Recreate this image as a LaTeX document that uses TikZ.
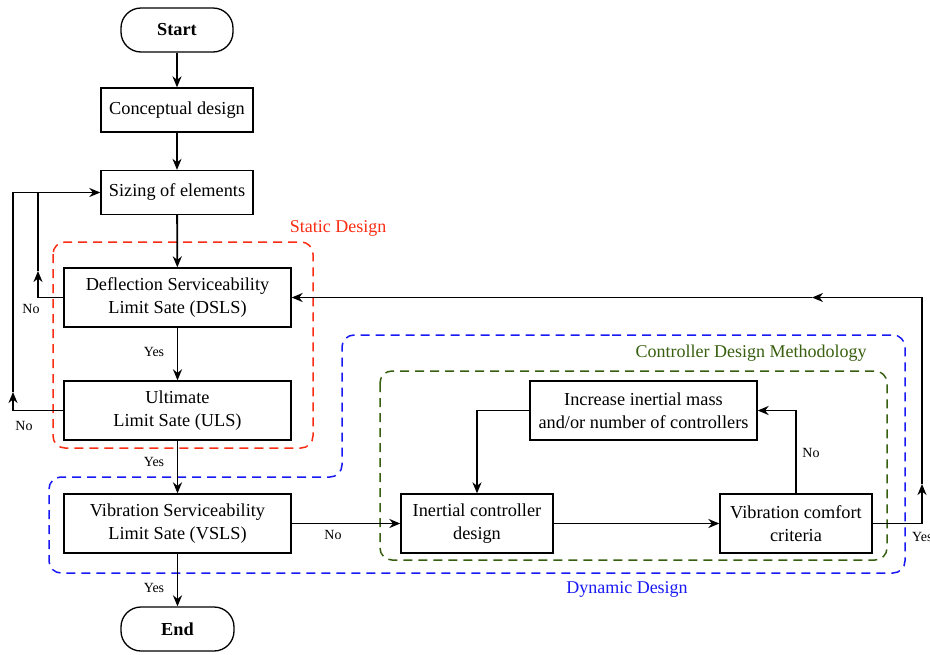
\documentclass[tikz,border=0pt]{standalone}
\usepackage{fontspec}
\setmainfont{Liberation Serif}
\usetikzlibrary{arrows.meta}
\definecolor{sred}{RGB}{250,45,20}
\definecolor{dblue}{RGB}{25,25,245}
\definecolor{dgreen}{RGB}{55,95,15}
\begin{document}
\begin{tikzpicture}[x=1pt,y=-1pt,
 box/.style={draw, line width=1.3pt, minimum width=152pt, minimum height=44pt, inner sep=0pt, align=center, font=\fontsize{18.3}{23}\selectfont},
 bigbox/.style={box, minimum width=227pt, minimum height=59pt},
 term/.style={box, minimum width=112pt, rounded corners=20pt, font=\fontsize{18.3}{23}\selectfont\bfseries},
 conn/.style={line width=1.8pt, -{Stealth[length=11pt,width=9pt,inset=3.5pt]}},
 plain/.style={line width=1.8pt},
 lbl/.style={font=\fontsize{14}{16}\selectfont, inner sep=0pt},
 title/.style={font=\fontsize{18}{22}\selectfont, inner sep=0pt},
 region/.style={line width=1.5pt, dash pattern=on 9pt off 6pt, rounded corners=12pt}
]
\useasboundingbox (0,0) rectangle (930,654);

% regions
\draw[region, sred] (53,242) rectangle (313,448);
\draw[region, dblue] (600,335) -- (905,335) -- (905,573) -- (49,573) -- (49,477) -- (342,477) -- (342,335) -- cycle;
\draw[region, dgreen] (380,371) rectangle (887,560);
\node[title, text=sred] (tstatic) at (338,228) {Static Design};
\node[title, text=dgreen] (tcdm) at (751,353) {Controller Design Methodology};
\node[title, text=dblue] (tdyn) at (627,589) {Dynamic Design};

% nodes
\node[term] (start) at (177,30) {Start};
\node[box] (concept) at (177,110) {Conceptual design};
\node[box] (sizing) at (177,192.5) {Sizing of elements};
\node[bigbox] (dsls) at (177.5,297.5) {Deflection Serviceability\\Limit Sate (DSLS)};
\node[bigbox] (uls) at (177.5,410.5) {Ultimate\\Limit Sate (ULS)};
\node[bigbox] (vsls) at (177.5,523.5) {Vibration Serviceability\\Limit Sate (VSLS)};
\node[term, minimum width=113pt] (end) at (177.5,629) {End};
\node[bigbox] (incr) at (643.5,410.5) {Increase inertial mass\\and/or number of controllers};
\node[box, minimum height=59pt] (icd) at (477,523.5) {Inertial controller\\design};
\node[box, minimum height=59pt] (vcc) at (796,523.5) {Vibration comfort\\criteria};

% main flow
\draw[conn] (start) -- (concept);
\draw[conn] (concept) -- (sizing);
\draw[conn] (sizing) -- (dsls);
\draw[conn] (dsls) -- (uls);
\draw[conn] (uls) -- (vsls);
\draw[conn] (vsls) -- (end);
\node[lbl] (y1) at (154,352) {Yes};
\node[lbl] (y2) at (154,462) {Yes};
\node[lbl] (y3) at (154,588) {Yes};

% left loops
\coordinate (la) at (38,271);
\coordinate (lb) at (13,392);
\draw[conn] (dsls.west) -| (la);
\draw[plain] (la) -- (la |- sizing.west);
\draw[conn] (uls.west) -| (lb);
\draw[conn] (lb) |- (sizing.west);
\node[lbl] (n1) at (31,309) {No};
\node[lbl] (n2) at (24,426) {No};

% controller loop
\draw[conn] (vsls) -- (icd);
\node[lbl] (n3) at (333,535) {No};
\draw[conn] (icd) -- (vcc);
\draw[conn] (vcc.north) |- (incr.east);
\node[lbl] (n4) at (811,453) {No};
\draw[conn] (incr.west) -| (icd.north);

% right loop back to DSLS
\coordinate (ra) at (922,484);
\coordinate (rb) at (812,297.5);
\draw[conn] (vcc.east) -| (ra);
\draw[conn] (ra) |- (rb);
\draw[conn] (rb) -- (dsls.east);
\node[lbl, anchor=west] (y4) at (912,537) {Yes};
\end{tikzpicture}
\end{document}
